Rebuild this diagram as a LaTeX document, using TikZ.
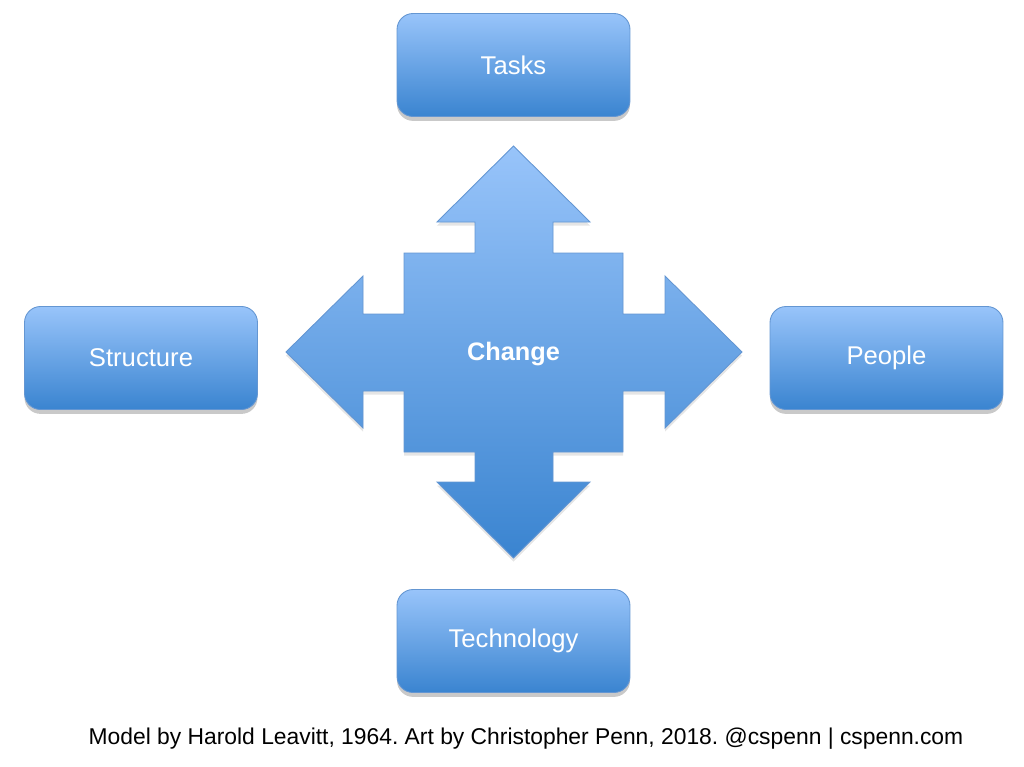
\documentclass[tikz,border=0pt]{standalone}
\usepackage{fontspec}
\setmainfont{Liberation Sans}
\usetikzlibrary{shadows}
\definecolor{boxtop}{RGB}{152,196,250}
\definecolor{boxbot}{RGB}{58,132,208}
\definecolor{boxline}{RGB}{100,150,210}
\tikzset{
  pillar/.style={rounded corners=0.32cm, minimum width=4.66cm, minimum height=2.06cm,
    top color=boxtop, bottom color=boxbot, draw=boxline, line width=0.5pt,
    text=white, font=\fontsize{14.6}{17}\selectfont,
    drop shadow={shadow xshift=0pt, shadow yshift=-2.5pt, opacity=0.3, fill=black!70}}
}
\begin{document}
\begin{tikzpicture}[x=0.02cm, y=-0.02cm]
\useasboundingbox (0,0) rectangle (1024,767);
\def\crosspath{(513.5,146) -- (590,222) -- (553,222) -- (553,253) -- (623,253) -- (623,314)
  -- (665,314) -- (665,276) -- (742,352) -- (665,428) -- (665,391) -- (623,391)
  -- (623,452) -- (553,452) -- (553,482) -- (590,482) -- (513.5,558) -- (437,482)
  -- (475,482) -- (475,452) -- (404,452) -- (404,391) -- (363,391) -- (363,428)
  -- (286,352) -- (363,276) -- (363,314) -- (404,314) -- (404,253) -- (475,253)
  -- (475,222) -- (437,222) -- cycle}
% Four elements
\node[pillar] (tasks) at (513.5,65) {Tasks};
\node[pillar] (structure) at (141,358) {Structure};
\node[pillar] (people) at (886.5,358) {People};
\node[pillar] (technology) at (513.5,641) {Technology};
% Change cross
\begin{scope}[yshift=-2pt]
\fill[black, opacity=0.1] \crosspath;
\end{scope}
\shade[top color=boxtop, bottom color=boxbot, draw=boxline, line width=0.5pt] \crosspath;
\node[text=white, font=\fontsize{14.4}{17}\selectfont\bfseries] (change) at (513.5,354) {Change};
% Credit line
\node[font=\fontsize{13}{16}\selectfont\frenchspacing] (credit) at (526,739)
  {Model by Harold Leavitt, 1964. Art by Christopher Penn, 2018. @cspenn | cspenn.com};
\end{tikzpicture}
\end{document}
